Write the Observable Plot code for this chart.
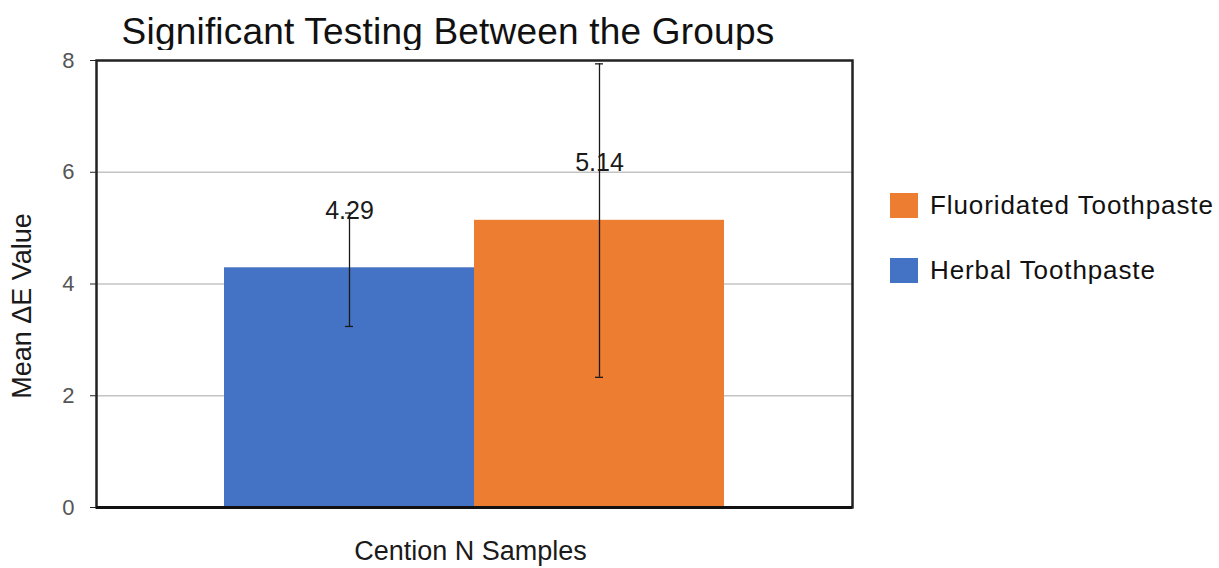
<!DOCTYPE html>
<html>
<head>
<meta charset="utf-8">
<script src="https://cdn.jsdelivr.net/npm/d3@7"></script>
<script src="https://cdn.jsdelivr.net/npm/@observablehq/plot@0.6"></script>
<style>
  html, body { margin: 0; padding: 0; background: #fff; }
  body { width: 1219px; height: 568px; position: relative; overflow: hidden; font-family: "Liberation Sans", Arial, sans-serif; }
  #title { position: absolute; left: 0; top: 10px; width: 896px; text-align: center; font-size: 37px; letter-spacing: 0.2px; color: #111; line-height: 44px; }
  #chart { position: absolute; left: 0; top: 50px; }
  #legend { position: absolute; left: 890px; top: 190px; }
  .item { display: flex; align-items: center; height: 30px; font-size: 26px; letter-spacing: 0.9px; color: #111; white-space: nowrap; }
  .sw { width: 28px; height: 25px; margin-right: 12px; }
</style>
</head>
<body>
<div id="title">Significant Testing Between the Groups</div>
<div id="chart"></div>
<div id="legend"></div>
<script>
const groups = ["Herbal Toothpaste", "Fluoridated Toothpaste"];
const means = [4.29, 5.14];
const lows = [3.24, 2.33];
const highs = [5.27, 7.94];
const colors = ["#4472C4", "#ED7D31"];
const yTicks = [0, 2, 4, 6, 8];
const gridTicks = [2, 4, 6];
const xLabel = "Cention N Samples";
const yLabel = "Mean ΔE Value";
const legendOrder = ["Fluoridated Toothpaste", "Herbal Toothpaste"];

const data = groups.map((g, i) => ({group: g, mean: means[i], lo: lows[i], hi: highs[i]}));

const chart = Plot.plot({
  width: 1219,
  height: 518,
  marginLeft: 96,
  marginRight: 367,
  marginTop: 10,
  marginBottom: 61,
  style: {fontFamily: "'Liberation Sans', Arial, sans-serif", background: "#fff", overflow: "visible"},
  x: {domain: groups, paddingInner: 0, paddingOuter: 0.512, axis: null},
  y: {domain: [0, 8], axis: null},
  color: {domain: groups, range: colors},
  marks: [
    Plot.gridY(gridTicks, {stroke: "#c4c4c4", strokeOpacity: 1, strokeWidth: 1.5}),
    Plot.barY(data, {x: "group", y: "mean", fill: "group"}),
    Plot.ruleX(data, {x: "group", y1: "lo", y2: "hi", stroke: "#1a1a1a", strokeWidth: 1.3}),
    Plot.tickY(data, {x: "group", y: "lo", stroke: "#1a1a1a", strokeWidth: 1.3, insetLeft: 121, insetRight: 121}),
    Plot.tickY(data, {x: "group", y: "hi", stroke: "#1a1a1a", strokeWidth: 1.3, insetLeft: 121, insetRight: 121}),
    Plot.text(data, {x: "group", y: "mean", text: d => d.mean.toFixed(2), dy: -57, fontSize: 25, fill: "#1a1a1a", lineAnchor: "middle", style: {letterSpacing: "0.5px"}}),
    Plot.frame({stroke: "#222", strokeWidth: 2.5}),
    Plot.ruleY([0], {stroke: "#111", strokeWidth: 3}),
    Plot.axisY(yTicks, {tickSize: 6, tickPadding: 16, fontSize: 22, color: "#555", label: null, stroke: "#222", tickFormat: d3.format("d")}),
    Plot.text([yLabel], {text: d => d, frameAnchor: "left", textAnchor: "middle", rotate: -90, dx: -74, dy: 22, fontSize: 27, fill: "#1a1a1a", lineAnchor: "middle"}),
    Plot.text([xLabel], {text: d => d, frameAnchor: "bottom", textAnchor: "middle", dx: -4, dy: 44, fontSize: 27, fill: "#1a1a1a", lineAnchor: "middle"})
  ]
});
document.getElementById("chart").appendChild(chart);

const legend = document.getElementById("legend");
legendOrder.forEach((g, i) => {
  const item = document.createElement("div");
  item.className = "item";
  item.style.marginBottom = i === 0 ? "35px" : "0";
  const sw = document.createElement("div");
  sw.className = "sw";
  sw.style.background = colors[groups.indexOf(g)];
  const t = document.createElement("span");
  t.textContent = g;
  item.appendChild(sw);
  item.appendChild(t);
  legend.appendChild(item);
});
</script>
</body>
</html>
